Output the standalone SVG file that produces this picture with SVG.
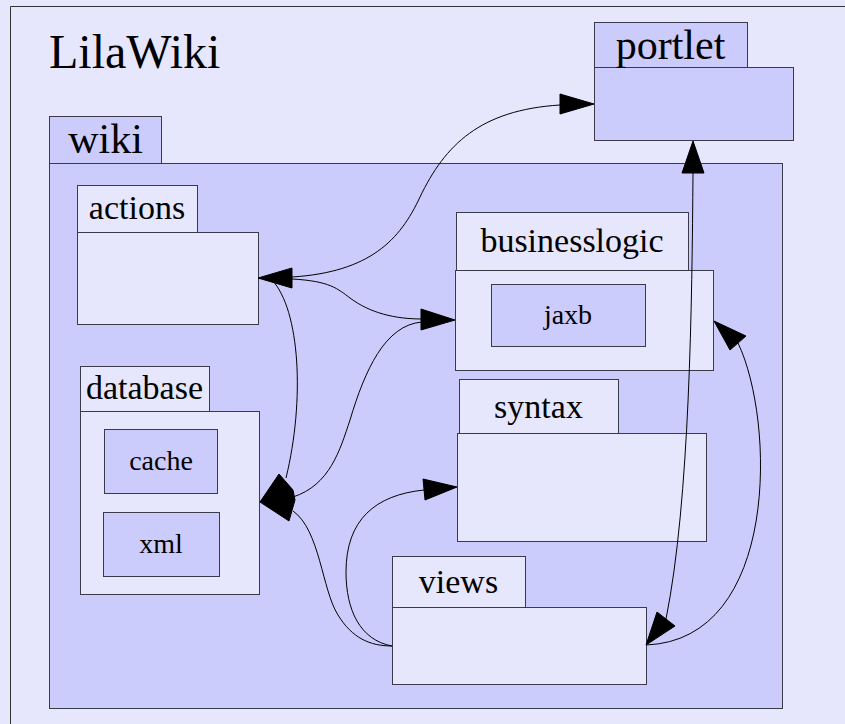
<svg xmlns="http://www.w3.org/2000/svg" width="845" height="724" viewBox="0 0 845 724">
  <style>
    .light { fill: #e6e6fc; stroke: #3a3a4a; stroke-width: 1; }
    .dark { fill: #ccccfc; stroke: #3a3a4a; stroke-width: 1; }
    .label { font-family: "Liberation Serif", "Noto Serif", "DejaVu Serif", "FreeSerif", "Tinos", "Nimbus Roman", "Times New Roman", Times, serif; fill: #000; text-anchor: middle; }
    .title { font-family: "Liberation Serif", "Noto Serif", "DejaVu Serif", "FreeSerif", "Tinos", "Nimbus Roman", "Times New Roman", Times, serif; fill: #000; }
    .edge { fill: none; stroke: #000; stroke-width: 1; }
    .head { fill: #000; stroke: #000; stroke-width: 1; stroke-linejoin: miter; }
  </style>

  <!-- page background and frame -->
  <rect x="0" y="0" width="845" height="724" fill="#e6e6fc"/>
  <path d="M10.5,724 V6.5 H845" fill="none" stroke="#333" stroke-width="1"/>
  <text class="title" x="49" y="68" font-size="48">LilaWiki</text>

  <!-- wiki package -->
  <g id="wiki">
    <rect class="dark" x="49.5" y="116.5" width="112" height="47"/>
    <rect class="dark" x="49.5" y="163.5" width="733" height="545"/>
    <text class="label" x="105.5" y="153" font-size="42">wiki</text>
  </g>

  <!-- portlet package -->
  <g id="portlet">
    <rect class="dark" x="594.5" y="22.5" width="153" height="45"/>
    <rect class="dark" x="594.5" y="67.5" width="199" height="73"/>
    <text class="label" x="670.5" y="59" font-size="42">portlet</text>
  </g>

  <!-- actions package -->
  <g id="actions">
    <rect class="light" x="77.5" y="185.5" width="120" height="47"/>
    <rect class="light" x="77.5" y="232.5" width="181" height="92"/>
    <text class="label" x="137" y="219" font-size="34">actions</text>
  </g>

  <!-- businesslogic package with jaxb -->
  <g id="businesslogic">
    <rect class="light" x="456.5" y="212.5" width="232" height="58"/>
    <rect class="light" x="455.5" y="270.5" width="258" height="100"/>
    <text class="label" x="572" y="252" font-size="34">businesslogic</text>
  </g>
  <g id="jaxb">
    <rect class="dark" x="491.5" y="284.5" width="154" height="62"/>
    <text class="label" x="568" y="324" font-size="28">jaxb</text>
  </g>

  <!-- database package with cache and xml -->
  <g id="database">
    <rect class="light" x="80.5" y="366.5" width="129" height="45"/>
    <rect class="light" x="80.5" y="411.5" width="179" height="183"/>
    <text class="label" x="144.5" y="399" font-size="34">database</text>
  </g>
  <g id="cache">
    <rect class="dark" x="104.5" y="429.5" width="113" height="64"/>
    <text class="label" x="161" y="470" font-size="28">cache</text>
  </g>
  <g id="xml">
    <rect class="dark" x="103.5" y="512.5" width="116" height="64"/>
    <text class="label" x="161" y="553" font-size="28">xml</text>
  </g>

  <!-- syntax package -->
  <g id="syntax">
    <rect class="light" x="459.5" y="379.5" width="159" height="54"/>
    <rect class="light" x="457.5" y="433.5" width="249" height="108"/>
    <text class="label" x="538.5" y="418" font-size="34">syntax</text>
  </g>

  <!-- views package -->
  <g id="views">
    <rect class="light" x="392.5" y="556.5" width="133" height="51"/>
    <rect class="light" x="392.5" y="607.5" width="254" height="77"/>
    <text class="label" x="458.5" y="593" font-size="34">views</text>
  </g>

  <!-- dependencies -->
  <g id="connectors">
    <!-- actions <-> portlet -->
    <path class="edge" d="M292,277 C370,272 400,240 420,197 C445,145 480,110 560,105"/>
    <polygon class="head" points="258,278 292,268 292,288"/>
    <polygon class="head" points="594,104 560,94 560,114"/>

    <!-- actions -> businesslogic -->
    <path class="edge" d="M292,279 C330,281 338,289 350,298 C370,313 395,319 422,319"/>
    <!-- database -> businesslogic -->
    <path class="edge" d="M293,497 C330,485 340,450 350,420 C365,370 385,325 422,322"/>
    <polygon class="head" points="455,320 421,309 421,330"/>

    <!-- actions -> database -->
    <path class="edge" d="M272,280 C300,310 305,400 286,478"/>
    <!-- views -> database -->
    <path class="edge" d="M293,511 C320,530 322,590 338,615 C352,638 370,646 392,646"/>
    <polygon class="head" points="260,502 279,474 293,490 295,500 289,521"/>

    <!-- views -> syntax -->
    <path class="edge" d="M392,646 C360,640 346,610 346,572 C346,520 375,495 424,490"/>
    <polygon class="head" points="457,487 423,479 425,500"/>

    <!-- views <-> portlet -->
    <path class="edge" d="M693,173 C692,300 690,500 666,619"/>
    <polygon class="head" points="693,141 682,173 704,173"/>
    <!-- businesslogic <-> views -->
    <path class="edge" d="M738,343 C775,420 780,640 646,645"/>
    <polygon class="head" points="714,321 746,336 730,350"/>
    <polygon class="head" points="646,645 657,612 675,626"/>
  </g>
</svg>
